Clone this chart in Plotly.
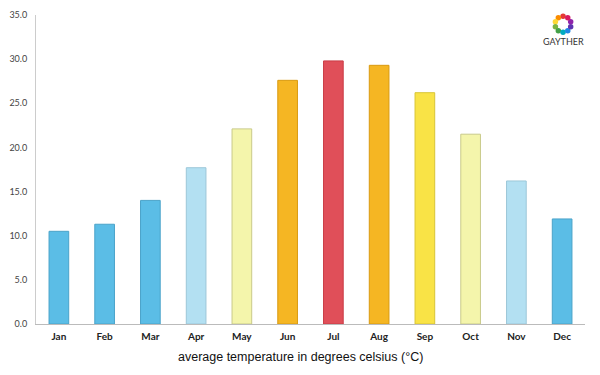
import plotly.graph_objects as go
import math

months = ["Jan", "Feb", "Mar", "Apr", "May", "Jun", "Jul", "Aug", "Sep", "Oct", "Nov", "Dec"]
temps = [10.5, 11.3, 14.0, 17.7, 22.1, 27.6, 29.8, 29.3, 26.2, 21.5, 16.2, 11.9]
fill_colors = ["#5bbde6", "#5bbde6", "#5bbde6", "#b3e0f2", "#f4f5ab", "#f5b623",
               "#e04f59", "#f5b623", "#f9e346", "#f4f5ab", "#b3e0f2", "#5bbde6"]
line_colors = ["#4aa3c9", "#4aa3c9", "#4aa3c9", "#9cc7d8", "#c9ca8a", "#d99a10",
               "#c93c46", "#d99a10", "#d8c535", "#c9ca8a", "#9cc7d8", "#4aa3c9"]
y_ticks = [0, 5, 10, 15, 20, 25, 30, 35]

fig = go.Figure(go.Bar(
    x=months, y=temps,
    marker=dict(color=fill_colors, line=dict(color=line_colors, width=1)),
    width=0.43,
))

# logo (decorative)
logo_colors = ["#e53935", "#fb8c00", "#fdd835", "#7cb342", "#43a047", "#00acc1",
               "#1e88e5", "#5e35b1", "#8e24aa", "#d81b60"]
cx, cy, rad = 0.96, 0.97, 0.026
shapes = []
for i, c in enumerate(logo_colors):
    a = 2 * math.pi * i / len(logo_colors) + math.pi / 2
    px = cx + rad * math.cos(a) * 309 / 549
    py = cy + rad * math.sin(a)
    shapes.append(dict(type="circle", xref="paper", yref="paper",
                       x0=px - 0.005, x1=px + 0.005, y0=py - 0.009, y1=py + 0.009,
                       fillcolor=c, line=dict(width=0), layer="above"))

fig.update_layout(
    width=584, height=359,
    margin=dict(l=28, r=7, t=7, b=43),
    paper_bgcolor="white", plot_bgcolor="white",
    showlegend=False,
    bargap=0.57,
    font=dict(family="Lato, DejaVu Sans, sans-serif", color="#333"),
    xaxis=dict(showgrid=False, showline=True, linecolor="#bbbbbb", linewidth=1,
               ticks="", automargin=False, ticklabelstandoff=3,
               tickfont=dict(size=10, color="#222", family="Lato, DejaVu Sans, sans-serif"),
               tickprefix="<b>", ticksuffix="</b>"),
    yaxis=dict(range=[0, 35], tickvals=y_ticks, ticktext=[f"{v:.1f}" for v in y_ticks],
               showgrid=False, zeroline=False, showline=True, linecolor="#cccccc", linewidth=1,
               ticks="", ticklabelstandoff=6, automargin=False,
               tickfont=dict(size=9, color="#444", family="Lato, DejaVu Sans, sans-serif")),
    shapes=shapes,
    annotations=[
        dict(text="GAYTHER", xref="paper", yref="paper", x=cx, y=0.914,
             showarrow=False, font=dict(size=9, color="#333", family="Lato, sans-serif"),
             xanchor="center", yanchor="middle"),
        dict(text="average temperature in degrees celsius (°C)", xref="paper", yref="paper",
             x=0.481, y=-0.107, showarrow=False, xanchor="center", yanchor="middle",
             font=dict(size=12.5, color="#111", family="Liberation Sans, Arial, sans-serif")),
    ],
)

fig.write_html("out.html")
